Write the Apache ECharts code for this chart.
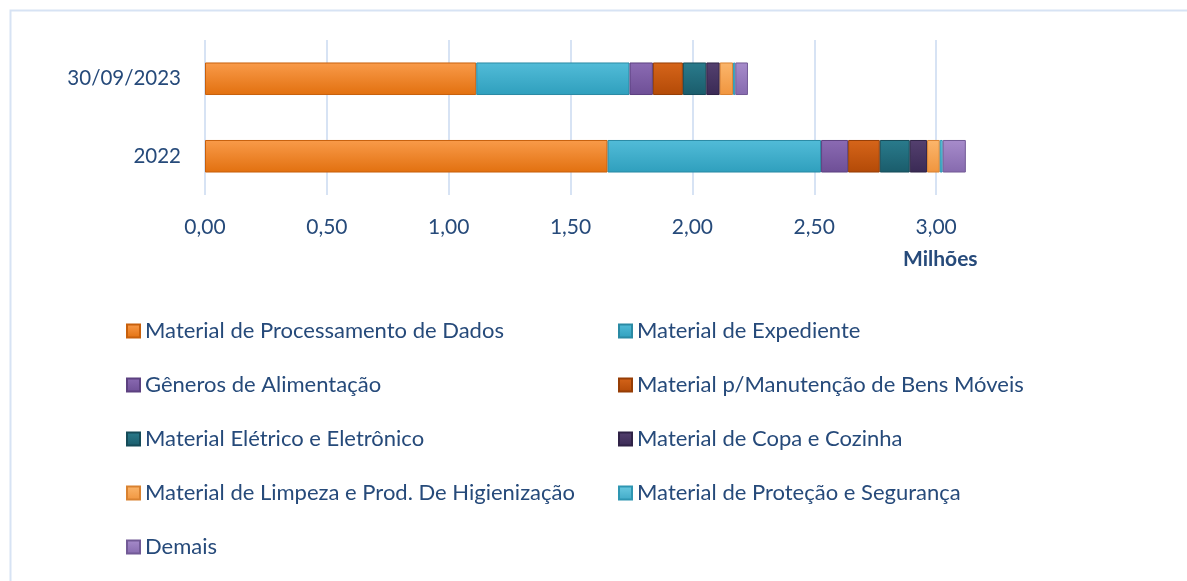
<!DOCTYPE html>
<html>
<head>
<meta charset="utf-8">
<script src="https://cdn.jsdelivr.net/npm/echarts@6/dist/echarts.min.js"></script>
<style>
  html, body { margin: 0; padding: 0; background: #fff; }
  #chart { width: 1187px; height: 581px; }
</style>
</head>
<body>
<div id="chart"></div>
<script>
// categorias (de baixo para cima no eixo)
var categories = ["2022", "30/09/2023"];

var seriesNames = [
  "Material de Processamento de Dados",
  "Material de Expediente",
  "Gêneros de Alimentação",
  "Material p/Manutenção de Bens Móveis",
  "Material Elétrico e Eletrônico",
  "Material de Copa e Cozinha",
  "Material de Limpeza e Prod. De Higienização",
  "Material de Proteção e Segurança",
  "Demais"
];

// valores em milhões: [2022, 30/09/2023]
var processamento = [1.652, 1.113];
var expediente = [0.876, 0.629];
var generos = [0.111, 0.096];
var manutencao = [0.130, 0.123];
var eletrico = [0.123, 0.096];
var copa = [0.071, 0.055];
var limpeza = [0.052, 0.055];
var protecao = [0.012, 0.009];
var demais = [0.095, 0.052];

var xTicks = [0, 0.5, 1, 1.5, 2, 2.5, 3];

var values = [processamento, expediente, generos, manutencao, eletrico, copa, limpeza, protecao, demais];

// cor clara, cor escura, borda
var colors = [
  ["#f99b4a", "#e2700f", "#c8600c"],
  ["#52bcd8", "#2f9fbd", "#2a8aa4"],
  ["#8b6bb3", "#6e4f96", "#5c4180"],
  ["#d6651a", "#b34a07", "#963d05"],
  ["#2a7b8c", "#1a5c6b", "#154b58"],
  ["#54406f", "#3a2a55", "#2f2246"],
  ["#fbb66c", "#f0953e", "#d98230"],
  ["#6ccbe2", "#3fa9c6", "#2e96b2"],
  ["#a78ccb", "#866aae", "#725a96"]
];

var textColor = "#264a7a";
var lineColor = "#d7e3f4";

var chart = echarts.init(document.getElementById("chart"));

var series = seriesNames.map(function (name, i) {
  return {
    name: name,
    type: "bar",
    stack: "total",
    barWidth: "42%",
    data: values[i],
    itemStyle: {
      color: new echarts.graphic.LinearGradient(0, 0, 0, 1, [
        { offset: 0, color: colors[i][0] },
        { offset: 1, color: colors[i][1] }
      ]),
      borderColor: colors[i][2],
      borderWidth: 1
    }
  };
});

function legendFor(list, left) {
  return {
    orient: "vertical",
    left: left,
    top: 320,
    padding: 0,
    itemWidth: 13,
    itemHeight: 13,
    itemGap: 32,
    icon: "rect",
    data: list,
    textStyle: { color: textColor, fontSize: 22, fontFamily: "Lato" }
  };
}

var option = {
  animation: false,
  grid: { left: 205, right: 1187 - 205 - 3.2 * 243.7, top: 40, bottom: 581 - 195 },
  xAxis: {
    type: "value",
    min: 0,
    max: 3.2,
    interval: 0.5,
    axisLine: { show: false },
    axisTick: { show: false },
    splitLine: { show: true, showMaxLine: false, lineStyle: { color: lineColor, width: 2 } },
    axisLabel: {
      color: textColor,
      fontSize: 21,
      fontFamily: "Lato",
      margin: 22,
      showMaxLabel: false,
      formatter: function (v) {
        if (xTicks.indexOf(Math.round(v * 100) / 100) < 0) return "";
        return v.toFixed(2).replace(".", ",");
      }
    }
  },
  yAxis: {
    type: "category",
    data: categories,
    axisLine: { show: false },
    axisTick: { show: false },
    axisLabel: { color: textColor, fontSize: 20.5, fontFamily: "Lato", margin: 24 }
  },
  legend: [
    legendFor([seriesNames[0], seriesNames[2], seriesNames[4], seriesNames[6], seriesNames[8]], 126),
    legendFor([seriesNames[1], seriesNames[3], seriesNames[5], seriesNames[7]], 618)
  ],
  graphic: [
    {
      type: "rect",
      silent: true,
      shape: { x: 10.5, y: 10.5, width: 1300, height: 700 },
      style: { fill: null, stroke: lineColor, lineWidth: 2 }
    },
    {
      type: "text",
      left: 903,
      top: 249,
      style: { text: "Milhões", fill: textColor, font: "bold 21px Lato" }
    }
  ],
  series: series
};

chart.setOption(option);
</script>
</body>
</html>
